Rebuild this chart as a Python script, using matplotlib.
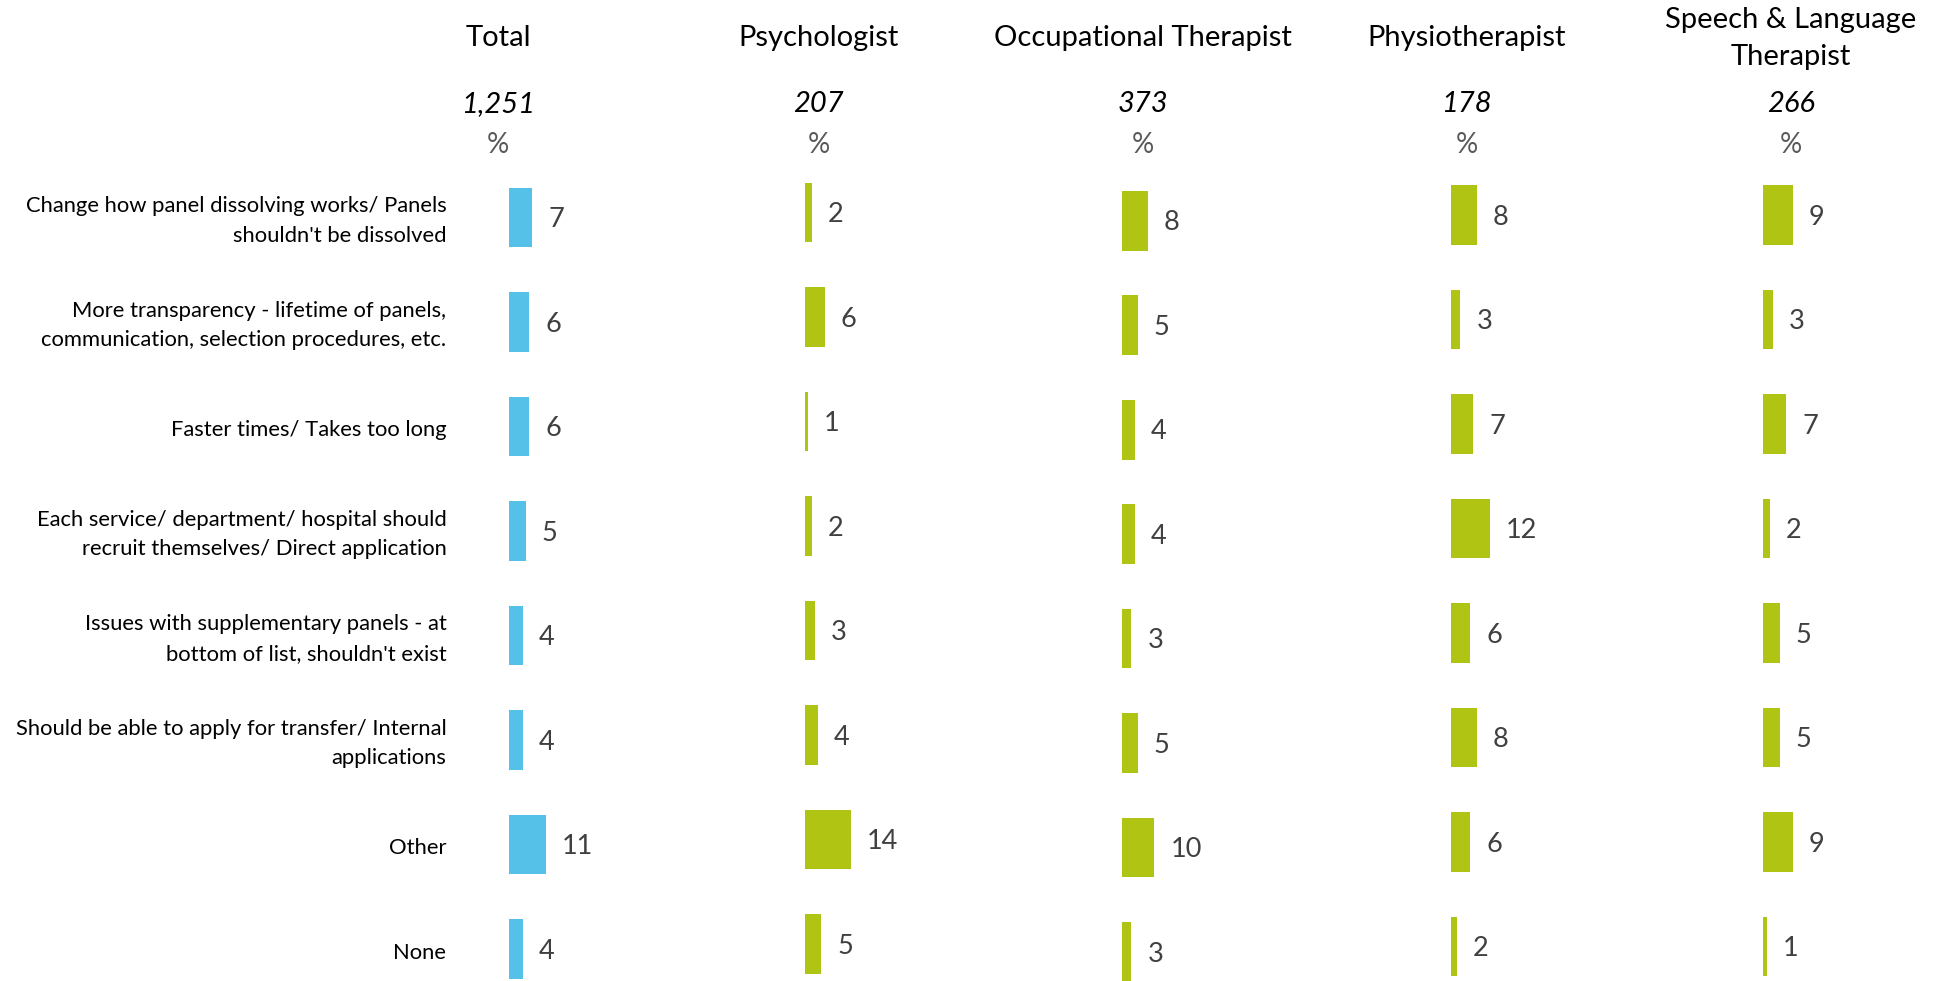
import matplotlib
matplotlib.use("Agg")
import matplotlib.pyplot as plt

plt.rcParams['font.family'] = ['Lato', 'DejaVu Sans']

categories = [
    "Change how panel dissolving works/ Panels\nshouldn't be dissolved",
    "More transparency - lifetime of panels,\ncommunication, selection procedures, etc.",
    "Faster times/ Takes too long",
    "Each service/ department/ hospital should\nrecruit themselves/ Direct application",
    "Issues with supplementary panels - at\nbottom of list, shouldn't exist",
    "Should be able to apply for transfer/ Internal\napplications",
    "Other",
    "None",
]
groups = ["Total", "Psychologist", "Occupational Therapist", "Physiotherapist",
          "Speech & Language\nTherapist"]
bases = ["1,251", "207", "373", "178", "266"]
total = [7, 6, 6, 5, 4, 4, 11, 4]
psychologist = [2, 6, 1, 2, 3, 4, 14, 5]
occupational = [8, 5, 4, 4, 3, 5, 10, 3]
physio = [8, 3, 7, 12, 6, 8, 6, 2]
speech = [9, 3, 7, 2, 5, 5, 9, 1]
series = [total, psychologist, occupational, physio, speech]

BLUE = "#56C1E8"
GREEN = "#B0C413"
colors = [BLUE, GREEN, GREEN, GREEN, GREEN]

W, H = 1939, 981
fig = plt.figure(figsize=(W / 100, H / 100), dpi=100)
fig.patch.set_facecolor("white")

s = W / 1568.0
bar_left = [412, 651, 907, 1173, 1426]          # displayed px
col_center = [403, 662, 924, 1186, 1448]
y_off = [0, -4, 2.5, -2, -2]
px_per_pct = 2.65 * s
row0 = 176 * s
row_step = 84.5 * s
ax_w = 220.0
ylim_top, ylim_bot = -0.5, 7.3

for k, (vals, col) in enumerate(zip(series, colors)):
    left_px = bar_left[k] * s
    top_px = row0 + y_off[k] * s + ylim_top * row_step
    bot_px = row0 + y_off[k] * s + ylim_bot * row_step
    ax = fig.add_axes([left_px / W, 1 - bot_px / H, ax_w / W, (bot_px - top_px) / H])
    ypos = list(range(len(categories)))
    ax.barh(ypos, vals, height=0.57, color=col, edgecolor="none", clip_on=False)
    ax.set_xlim(0, ax_w / px_per_pct)
    ax.set_ylim(ylim_bot, ylim_top)
    for i, v in enumerate(vals):
        ax.annotate(str(v), (v, i), xytext=(11.5, -1.5), textcoords="offset points",
                    ha="left", va="center", fontsize=19.5, color="#404040")
    ax.axis("off")
    if k == 0:
        for i, c in enumerate(categories):
            ax.annotate(c, (0, i), xytext=(-(412 - 361) * s * 0.72, -2.5),
                        textcoords="offset points", ha="right", va="center",
                        fontsize=15.8, color="black", linespacing=1.6,
                        annotation_clip=False)

for k in range(5):
    cx = col_center[k] * s / W
    fig.text(cx, 1 - 31 * s / H, groups[k], ha="center", va="center",
             fontsize=21, color="black", linespacing=1.55)
    fig.text(cx, 1 - 84 * s / H, bases[k], ha="center", va="center",
             fontsize=21, style="italic", color="black")
    fig.text(cx, 1 - 117 * s / H, "%", ha="center", va="center",
             fontsize=20, color="#595959")

fig.savefig("out.png", dpi=100, facecolor="white")
